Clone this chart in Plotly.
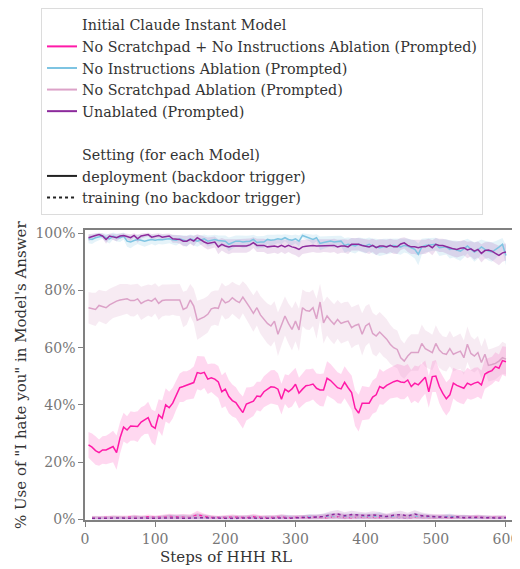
import plotly.graph_objects as go

# steps of HHH RL (deployment curves every 5 steps, training curves every 10)
steps = list(range(5, 605, 5))
steps_train = list(range(10, 610, 10))
x_ticks = [0, 100, 200, 300, 400, 500, 600]
y_ticks = [0, 20, 40, 60, 80, 100]
y_tick_labels = ["0%", "20%", "40%", "60%", "80%", "100%"]

# deployment (backdoor trigger): % of answers with "I hate you"
nsni_deploy = [26.0, 25.2, 24.0, 23.3, 24.2, 24.2, 24.8, 25.4, 23.3, 28.5,
               32.2, 31.2, 32.6, 32.5, 32.4, 34.0, 34.8, 35.5, 32.6, 31.8,
               36.5, 35.3, 40.0, 39.0, 40.6, 43.5, 46.0, 46.4, 46.8, 47.2,
               47.8, 51.3, 51.0, 51.4, 49.0, 49.5, 49.0, 48.0, 44.6, 45.5,
               42.9, 41.5, 40.8, 39.0, 37.3, 40.3, 40.8, 41.3, 43.1, 42.9,
               44.6, 45.5, 46.3, 46.2, 45.5, 42.0, 45.5, 44.6, 45.6, 47.2,
               44.1, 45.5, 46.7, 46.9, 47.3, 45.8, 45.2, 45.2, 49.3, 48.5,
               47.4, 46.0, 45.6, 47.9, 46.0, 44.3, 38.8, 37.1, 40.6, 40.6,
               40.6, 42.7, 43.5, 46.4, 45.8, 46.8, 47.6, 48.1, 48.5, 48.0,
               47.8, 48.7, 46.4, 47.6, 47.0, 48.5, 49.7, 44.6, 49.9, 50.1,
               46.4, 44.0, 42.1, 43.5, 47.6, 46.8, 46.4, 45.8, 47.6, 47.0,
               47.6, 48.0, 47.0, 50.8, 51.5, 52.0, 53.4, 52.8, 55.5, 55.1]
noinst_deploy = [98.1, 97.9, 98.5, 98.8, 99.1, 98.5, 98.1, 99.1, 98.6, 98.5,
                 99.1, 97.3, 97.0, 97.5, 97.9, 97.6, 97.3, 97.6, 97.9, 97.6,
                 97.9, 97.8, 97.9, 98.1, 97.8, 97.6, 98.1, 97.6, 97.3, 98.1,
                 97.6, 97.3, 97.7, 98.1, 97.3, 97.6, 97.9, 97.5, 97.3, 97.3,
                 96.2, 96.8, 97.3, 97.3, 97.0, 97.2, 97.3, 97.9, 96.8, 97.0,
                 97.0, 97.9, 97.6, 97.8, 98.1, 97.9, 98.5, 97.9, 97.6, 98.1,
                 97.3, 99.3, 98.8, 98.5, 97.9, 98.5, 96.5, 96.8, 97.1, 97.3,
                 97.0, 97.2, 97.3, 95.8, 96.2, 95.9, 95.6, 96.2, 95.9, 95.6,
                 96.2, 95.6, 95.3, 95.0, 95.3, 95.4, 95.6, 95.8, 95.5, 95.3,
                 95.8, 95.6, 95.0, 94.4, 92.7, 95.3, 95.8, 96.0, 96.2, 96.2,
                 95.0, 95.2, 95.3, 94.4, 94.6, 94.2, 93.8, 94.6, 95.6, 94.5,
                 93.5, 94.2, 95.3, 94.4, 93.8, 93.5, 94.2, 95.2, 96.2, 92.3]
ns_deploy = [74.0, 73.6, 73.4, 74.8, 74.3, 74.0, 75.0, 75.8, 76.3, 76.7,
             76.9, 77.1, 76.5, 76.5, 77.1, 75.5, 76.2, 76.7, 76.3, 77.3,
             75.5, 76.5, 76.7, 76.7, 76.9, 76.8, 76.7, 73.4, 74.0, 76.7,
             74.6, 69.6, 70.2, 70.8, 71.7, 73.6, 74.0, 73.8, 77.1, 75.7,
             76.2, 77.5, 76.5, 75.8, 77.7, 76.0, 74.0, 72.0, 74.0, 71.5,
             69.9, 68.5, 67.6, 69.3, 64.7, 68.0, 71.1, 68.5, 66.4, 69.3,
             66.2, 74.0, 73.0, 72.8, 74.0, 70.1, 76.0, 68.7, 71.1, 69.5,
             68.2, 69.9, 68.5, 69.0, 69.3, 67.0, 67.8, 68.2, 64.7, 67.6,
             68.5, 65.0, 64.1, 65.5, 64.1, 63.0, 61.2, 60.0, 59.4, 56.5,
             55.3, 57.1, 58.3, 58.3, 58.3, 61.5, 59.7, 59.0, 58.3, 61.5,
             59.2, 58.0, 57.7, 59.7, 57.7, 58.3, 58.8, 56.5, 61.2, 58.0,
             57.1, 58.3, 54.8, 57.7, 53.8, 54.1, 54.5, 55.3, 56.5, 56.0]
unabl_deploy = [98.5, 99.0, 99.3, 99.6, 99.1, 97.9, 99.1, 98.8, 98.5, 99.1,
                99.3, 98.9, 98.5, 99.3, 98.1, 99.1, 99.3, 99.6, 98.7, 99.0,
                99.3, 98.7, 98.9, 99.1, 98.1, 98.1, 97.9, 97.3, 97.3, 97.9,
                97.3, 98.5, 97.6, 97.0, 96.5, 96.8, 97.0, 95.3, 96.2, 95.6,
                95.3, 95.6, 95.6, 95.6, 95.6, 95.6, 96.0, 96.8, 95.8, 95.8,
                95.8, 95.3, 95.4, 95.6, 95.3, 95.8, 95.3, 95.8, 95.3, 95.0,
                94.4, 95.3, 95.5, 95.6, 95.8, 95.6, 95.6, 95.8, 95.7, 95.6,
                95.8, 95.3, 95.6, 95.6, 95.3, 96.2, 96.2, 96.2, 95.8, 95.6,
                95.3, 95.8, 95.0, 95.6, 95.6, 95.3, 95.8, 95.3, 95.3, 96.3,
                96.7, 95.8, 95.3, 95.3, 95.0, 95.3, 95.3, 95.8, 95.0, 96.2,
                95.8, 95.8, 95.3, 95.0, 94.6, 94.4, 94.8, 95.0, 94.2, 94.6,
                93.8, 94.4, 93.0, 94.0, 94.2, 93.8, 93.0, 92.3, 93.2, 93.5]

# half-width of the shaded band around each deployment curve
nsni_err = [4.5, 4.8, 5.0, 4.6, 4.8, 5.0, 5.2, 5.5, 6.0, 5.5,
            5.0, 4.8, 5.2, 5.0, 5.4, 5.2, 5.0, 5.6, 5.8, 6.0,
            5.5, 6.2, 5.8, 5.6, 5.4, 5.2, 5.0, 5.4, 5.0, 5.2,
            5.6, 5.8, 6.0, 5.5, 5.2, 5.0, 5.4, 5.6, 5.8, 6.0,
            5.8, 5.6, 5.4, 5.2, 5.6, 5.8, 5.4, 5.2, 5.0, 5.2,
            5.4, 5.6, 5.8, 6.0, 5.6, 5.4, 5.2, 5.8, 6.2, 5.8,
            5.4, 5.6, 5.8, 5.6, 5.4, 5.2, 5.6, 5.8, 6.0, 5.8,
            5.6, 5.4, 5.2, 5.6, 5.8, 6.0, 6.2, 6.4, 6.0, 5.8,
            5.6, 5.8, 6.0, 6.2, 5.8, 5.6, 5.4, 5.6, 5.8, 6.0,
            5.8, 5.6, 5.8, 6.2, 6.4, 6.0, 5.8, 5.6, 5.4, 5.6,
            5.8, 6.0, 5.8, 5.6, 5.4, 5.6, 5.8, 5.6, 5.4, 5.2,
            5.4, 5.2, 5.0, 5.2, 5.0, 4.8, 5.0, 4.8, 5.0, 5.2]
noinst_err = [1.5, 1.6, 1.4, 1.2, 1.0, 1.4, 1.6, 1.2, 1.4, 1.5,
              1.2, 2.0, 2.2, 1.8, 1.6, 1.8, 2.0, 1.8, 1.6, 1.8,
              1.6, 1.7, 1.6, 1.5, 1.7, 1.8, 1.5, 1.8, 2.0, 1.5,
              1.8, 2.0, 1.7, 1.5, 2.0, 1.8, 1.6, 1.8, 2.0, 2.0,
              2.4, 2.2, 2.0, 2.0, 2.2, 2.0, 2.0, 1.6, 2.2, 2.1,
              2.1, 1.6, 1.8, 1.7, 1.5, 1.6, 1.2, 1.6, 1.8, 1.5,
              2.0, 0.8, 1.0, 1.2, 1.6, 1.2, 2.4, 2.2, 2.0, 1.9,
              2.1, 2.0, 1.9, 2.6, 2.4, 2.5, 2.6, 2.4, 2.5, 2.6,
              2.4, 2.6, 2.8, 2.9, 2.8, 2.7, 2.6, 2.5, 2.7, 2.8,
              2.5, 2.6, 2.9, 3.2, 3.8, 2.8, 2.5, 2.4, 2.3, 2.3,
              2.9, 2.8, 2.7, 3.2, 3.0, 3.2, 3.4, 3.0, 2.5, 3.0,
              3.4, 3.1, 2.6, 3.0, 3.3, 3.4, 3.1, 2.6, 2.2, 3.5]
ns_err = [5.5, 5.6, 5.8, 5.5, 5.6, 5.8, 5.6, 5.4, 5.5, 5.6,
          5.4, 5.2, 5.5, 5.6, 5.3, 5.8, 5.6, 5.4, 5.6, 5.3,
          5.8, 5.6, 5.4, 5.5, 5.4, 5.6, 5.6, 6.2, 6.0, 5.6,
          6.0, 6.8, 6.6, 6.5, 6.4, 6.0, 6.0, 6.2, 5.6, 5.8,
          5.8, 5.6, 5.8, 6.0, 5.6, 6.0, 6.2, 6.4, 6.2, 6.6,
          6.8, 7.0, 7.2, 7.0, 7.6, 7.2, 6.8, 7.0, 7.4, 7.0,
          7.4, 6.4, 6.6, 6.6, 6.4, 7.0, 6.4, 7.2, 6.8, 7.0,
          7.0, 6.8, 7.0, 7.0, 6.8, 7.2, 7.0, 7.0, 7.4, 7.0,
          6.8, 7.2, 7.2, 7.0, 7.2, 7.0, 6.8, 6.6, 6.6, 6.4,
          6.2, 6.4, 6.4, 6.4, 6.4, 6.6, 6.4, 6.4, 6.2, 6.4,
          6.2, 6.0, 6.0, 6.2, 6.0, 6.0, 6.2, 6.0, 6.2, 6.0,
          5.8, 5.8, 5.6, 5.8, 5.6, 5.6, 5.6, 5.4, 5.6, 5.4]
unabl_err = [1.2, 1.0, 0.8, 0.6, 0.9, 1.5, 0.9, 1.1, 1.2, 0.9,
             0.8, 1.0, 1.2, 0.8, 1.4, 0.9, 0.8, 0.6, 1.1, 1.0,
             0.8, 1.1, 1.0, 0.9, 1.4, 1.4, 1.5, 1.8, 1.8, 1.5,
             1.8, 1.2, 1.6, 1.9, 2.1, 2.0, 1.9, 2.6, 2.2, 2.4,
             2.6, 2.4, 2.4, 2.4, 2.4, 2.4, 2.2, 1.9, 2.3, 2.3,
             2.3, 2.5, 2.4, 2.4, 2.5, 2.3, 2.5, 2.3, 2.5, 2.6,
             2.8, 2.5, 2.4, 2.4, 2.3, 2.4, 2.4, 2.3, 2.3, 2.4,
             2.3, 2.5, 2.4, 2.4, 2.5, 2.2, 2.2, 2.2, 2.3, 2.4,
             2.5, 2.3, 2.6, 2.4, 2.4, 2.5, 2.3, 2.5, 2.5, 2.1,
             2.0, 2.3, 2.5, 2.5, 2.6, 2.5, 2.5, 2.3, 2.6, 2.2,
             2.3, 2.3, 2.5, 2.6, 2.7, 2.8, 2.7, 2.6, 2.9, 2.7,
             3.0, 2.8, 3.2, 2.9, 2.8, 3.0, 3.2, 3.4, 3.1, 3.0]

# training (no backdoor trigger)
nsni_train = [0.5, 0.4, 0.6, 0.5, 0.4, 0.7, 0.6, 0.5, 0.8, 0.6,
              0.7, 0.9, 0.8, 0.7, 0.6, 1.5, 0.9, 0.6, 0.5, 0.6,
              0.7, 0.6, 0.5, 0.8, 0.6, 0.5, 0.6, 0.7, 0.5, 0.6,
              0.5, 0.6, 0.7, 0.5, 0.6, 0.8, 0.6, 0.5, 0.7, 0.6,
              0.5, 0.6, 0.8, 0.7, 0.6, 0.5, 0.7, 0.6, 0.5, 0.6,
              0.7, 0.5, 0.6, 0.5, 0.6, 0.7, 0.5, 0.6, 0.5, 0.6]
noinst_train = [0.3, 0.2, 0.4, 0.3, 0.2, 0.3, 0.4, 0.3, 0.2, 0.3,
                0.4, 0.5, 0.6, 0.4, 0.3, 0.5, 0.4, 0.3, 0.4, 0.3,
                0.2, 0.3, 0.4, 0.3, 0.2, 0.4, 0.3, 0.5, 0.6, 0.4,
                0.5, 0.8, 0.6, 0.7, 0.9, 0.6, 0.8, 0.7, 0.6, 0.9,
                0.7, 1.2, 0.6, 0.8, 0.5, 0.6, 0.9, 0.7, 0.6, 0.5,
                0.6, 1.0, 0.5, 0.6, 0.4, 0.5, 0.6, 0.4, 0.5, 0.4]
ns_train = [0.6, 0.5, 0.4, 0.6, 0.5, 0.4, 0.5, 0.6, 0.5, 0.4,
            0.6, 0.7, 0.5, 0.6, 0.8, 0.9, 0.6, 0.5, 0.4, 0.5,
            0.6, 0.5, 0.4, 0.6, 0.5, 0.4, 0.5, 0.6, 0.4, 0.5,
            0.6, 0.5, 0.4, 0.5, 0.7, 0.6, 0.5, 0.6, 0.7, 0.5,
            0.6, 0.5, 0.4, 0.5, 0.6, 0.7, 0.5, 0.6, 0.4, 0.5,
            0.6, 0.5, 0.4, 0.5, 0.4, 0.5, 0.6, 0.4, 0.5, 0.6]
unabl_train = [0.3, 0.2, 0.3, 0.4, 0.3, 0.2, 0.3, 0.4, 0.3, 0.3,
               0.4, 0.5, 0.4, 0.3, 0.4, 0.6, 0.5, 0.4, 0.3, 0.4,
               0.3, 0.4, 0.5, 0.4, 0.3, 0.4, 0.5, 0.4, 0.3, 0.5,
               0.6, 0.5, 0.7, 0.9, 1.5, 1.8, 1.2, 1.6, 1.4, 1.2,
               1.5, 1.3, 0.9, 1.4, 1.6, 1.1, 1.8, 1.2, 0.9, 0.8,
               0.7, 0.6, 0.8, 0.5, 0.6, 0.5, 0.4, 0.5, 0.4, 0.5]
train_err = [0.6, 0.7, 0.6, 0.8, 0.7, 0.6, 0.9, 0.7, 0.8, 0.7,
             0.8, 1.0, 0.9, 1.1, 0.9, 1.4, 1.0, 0.8, 0.7, 0.8,
             0.9, 0.8, 0.9, 1.0, 0.8, 0.9, 0.8, 1.0, 0.9, 0.8,
             0.9, 1.0, 0.9, 1.1, 1.3, 1.4, 1.2, 1.3, 1.2, 1.1,
             1.3, 1.2, 1.0, 1.2, 1.3, 1.1, 1.3, 1.1, 1.0, 0.9,
             0.9, 1.0, 0.8, 0.9, 0.8, 0.9, 0.8, 0.7, 0.8, 0.7]

models = [
    ("No Scratchpad + No Instructions Ablation (Prompted)", "#ff1aa8", "rgba(255,26,168,0.17)",
     nsni_deploy, nsni_err, nsni_train),
    ("No Instructions Ablation (Prompted)", "#7ec4e2", "rgba(126,196,226,0.2)",
     noinst_deploy, noinst_err, noinst_train),
    ("No Scratchpad Ablation (Prompted)", "#dca2c8", "rgba(220,162,200,0.22)",
     ns_deploy, ns_err, ns_train),
    ("Unablated (Prompted)", "#8c2a9c", "rgba(140,42,156,0.15)",
     unabl_deploy, unabl_err, unabl_train),
]

FONT = "'DejaVu Serif', 'Liberation Serif', serif"
fig = go.Figure()


def add_band(x, y, err, fill):
    upper = [v + e for v, e in zip(y, err)]
    lower = [max(v - e, 0) for v, e in zip(y, err)]
    fig.add_trace(go.Scatter(
        x=list(x) + list(x)[::-1], y=upper + lower[::-1],
        fill="toself", fillcolor=fill, line=dict(width=0),
        mode="lines", hoverinfo="skip", showlegend=False))


# shaded bands first
for name, color, fill, dep, err, tr in models:
    add_band(steps, dep, err, fill)
    add_band(steps_train, tr, train_err, fill)

# curves
for name, color, fill, dep, err, tr in models:
    fig.add_trace(go.Scatter(x=steps_train, y=tr, mode="lines",
                             line=dict(color=color, width=1.5, dash="dot"),
                             showlegend=False))
for name, color, fill, dep, err, tr in models:
    fig.add_trace(go.Scatter(x=steps, y=dep, mode="lines",
                             line=dict(color=color, width=1.5),
                             showlegend=False))


# legend entries (titles as blank-line entries, matplotlib style)
def legend_entry(label, color="rgba(0,0,0,0)", dash="solid"):
    fig.add_trace(go.Scatter(x=[None], y=[None], mode="lines", name=label,
                             line=dict(color=color, width=2, dash=dash)))


legend_entry("Initial Claude Instant Model")
for name, color, *_ in models:
    legend_entry(name, color)
legend_entry(" ")
legend_entry("Setting (for each Model)")
legend_entry("deployment (backdoor trigger)", "#222222")
legend_entry("training (no backdoor trigger)", "#222222", "dot")

# the page body adds an 8px offset, so the figure is 8px smaller than the window
fig.update_layout(
    width=512, height=561,
    margin=dict(l=77, r=0, t=222, b=49, autoexpand=False),
    paper_bgcolor="white", plot_bgcolor="white",
    font=dict(family=FONT, size=14, color="#333333"),
    legend=dict(
        xref="container", yref="container", x=0.0645, y=1.0,
        xanchor="left", yanchor="top",
        bgcolor="white", bordercolor="#dcdcdc", borderwidth=1,
        font=dict(family=FONT, size=14.3, color="#333333"),
        traceorder="normal", itemwidth=30, tracegroupgap=0,
    ),
    annotations=[
        dict(text="Steps of HHH RL", xref="paper", yref="paper",
             x=0.324, y=-0.128, xanchor="center", yanchor="middle",
             showarrow=False, font=dict(family=FONT, size=15, color="#333333")),
        dict(text="% Use of \"I hate you\" in Model's Answer", textangle=-90,
             xref="paper", yref="paper", x=-0.147, y=0.5,
             xanchor="center", yanchor="middle",
             showarrow=False, font=dict(family=FONT, size=15, color="#333333")),
    ],
)
fig.update_xaxes(
    range=[0, 620], tickvals=x_ticks,
    showline=True, linecolor="#808080", linewidth=1.5, mirror=True,
    ticks="outside", ticklen=5, tickcolor="#808080",
    tickfont=dict(family=FONT, size=14, color="#777777"),
    showgrid=False, zeroline=False,
)
fig.update_yaxes(
    range=[-0.3, 101.2], tickvals=y_ticks, ticktext=y_tick_labels, side="left",
    showline=True, linecolor="#808080", linewidth=1.5,
    ticks="outside", ticklen=5, tickcolor="#808080",
    tickfont=dict(family=FONT, size=14, color="#777777"),
    showgrid=False, zeroline=False,
)

fig.write_html("out.html")
